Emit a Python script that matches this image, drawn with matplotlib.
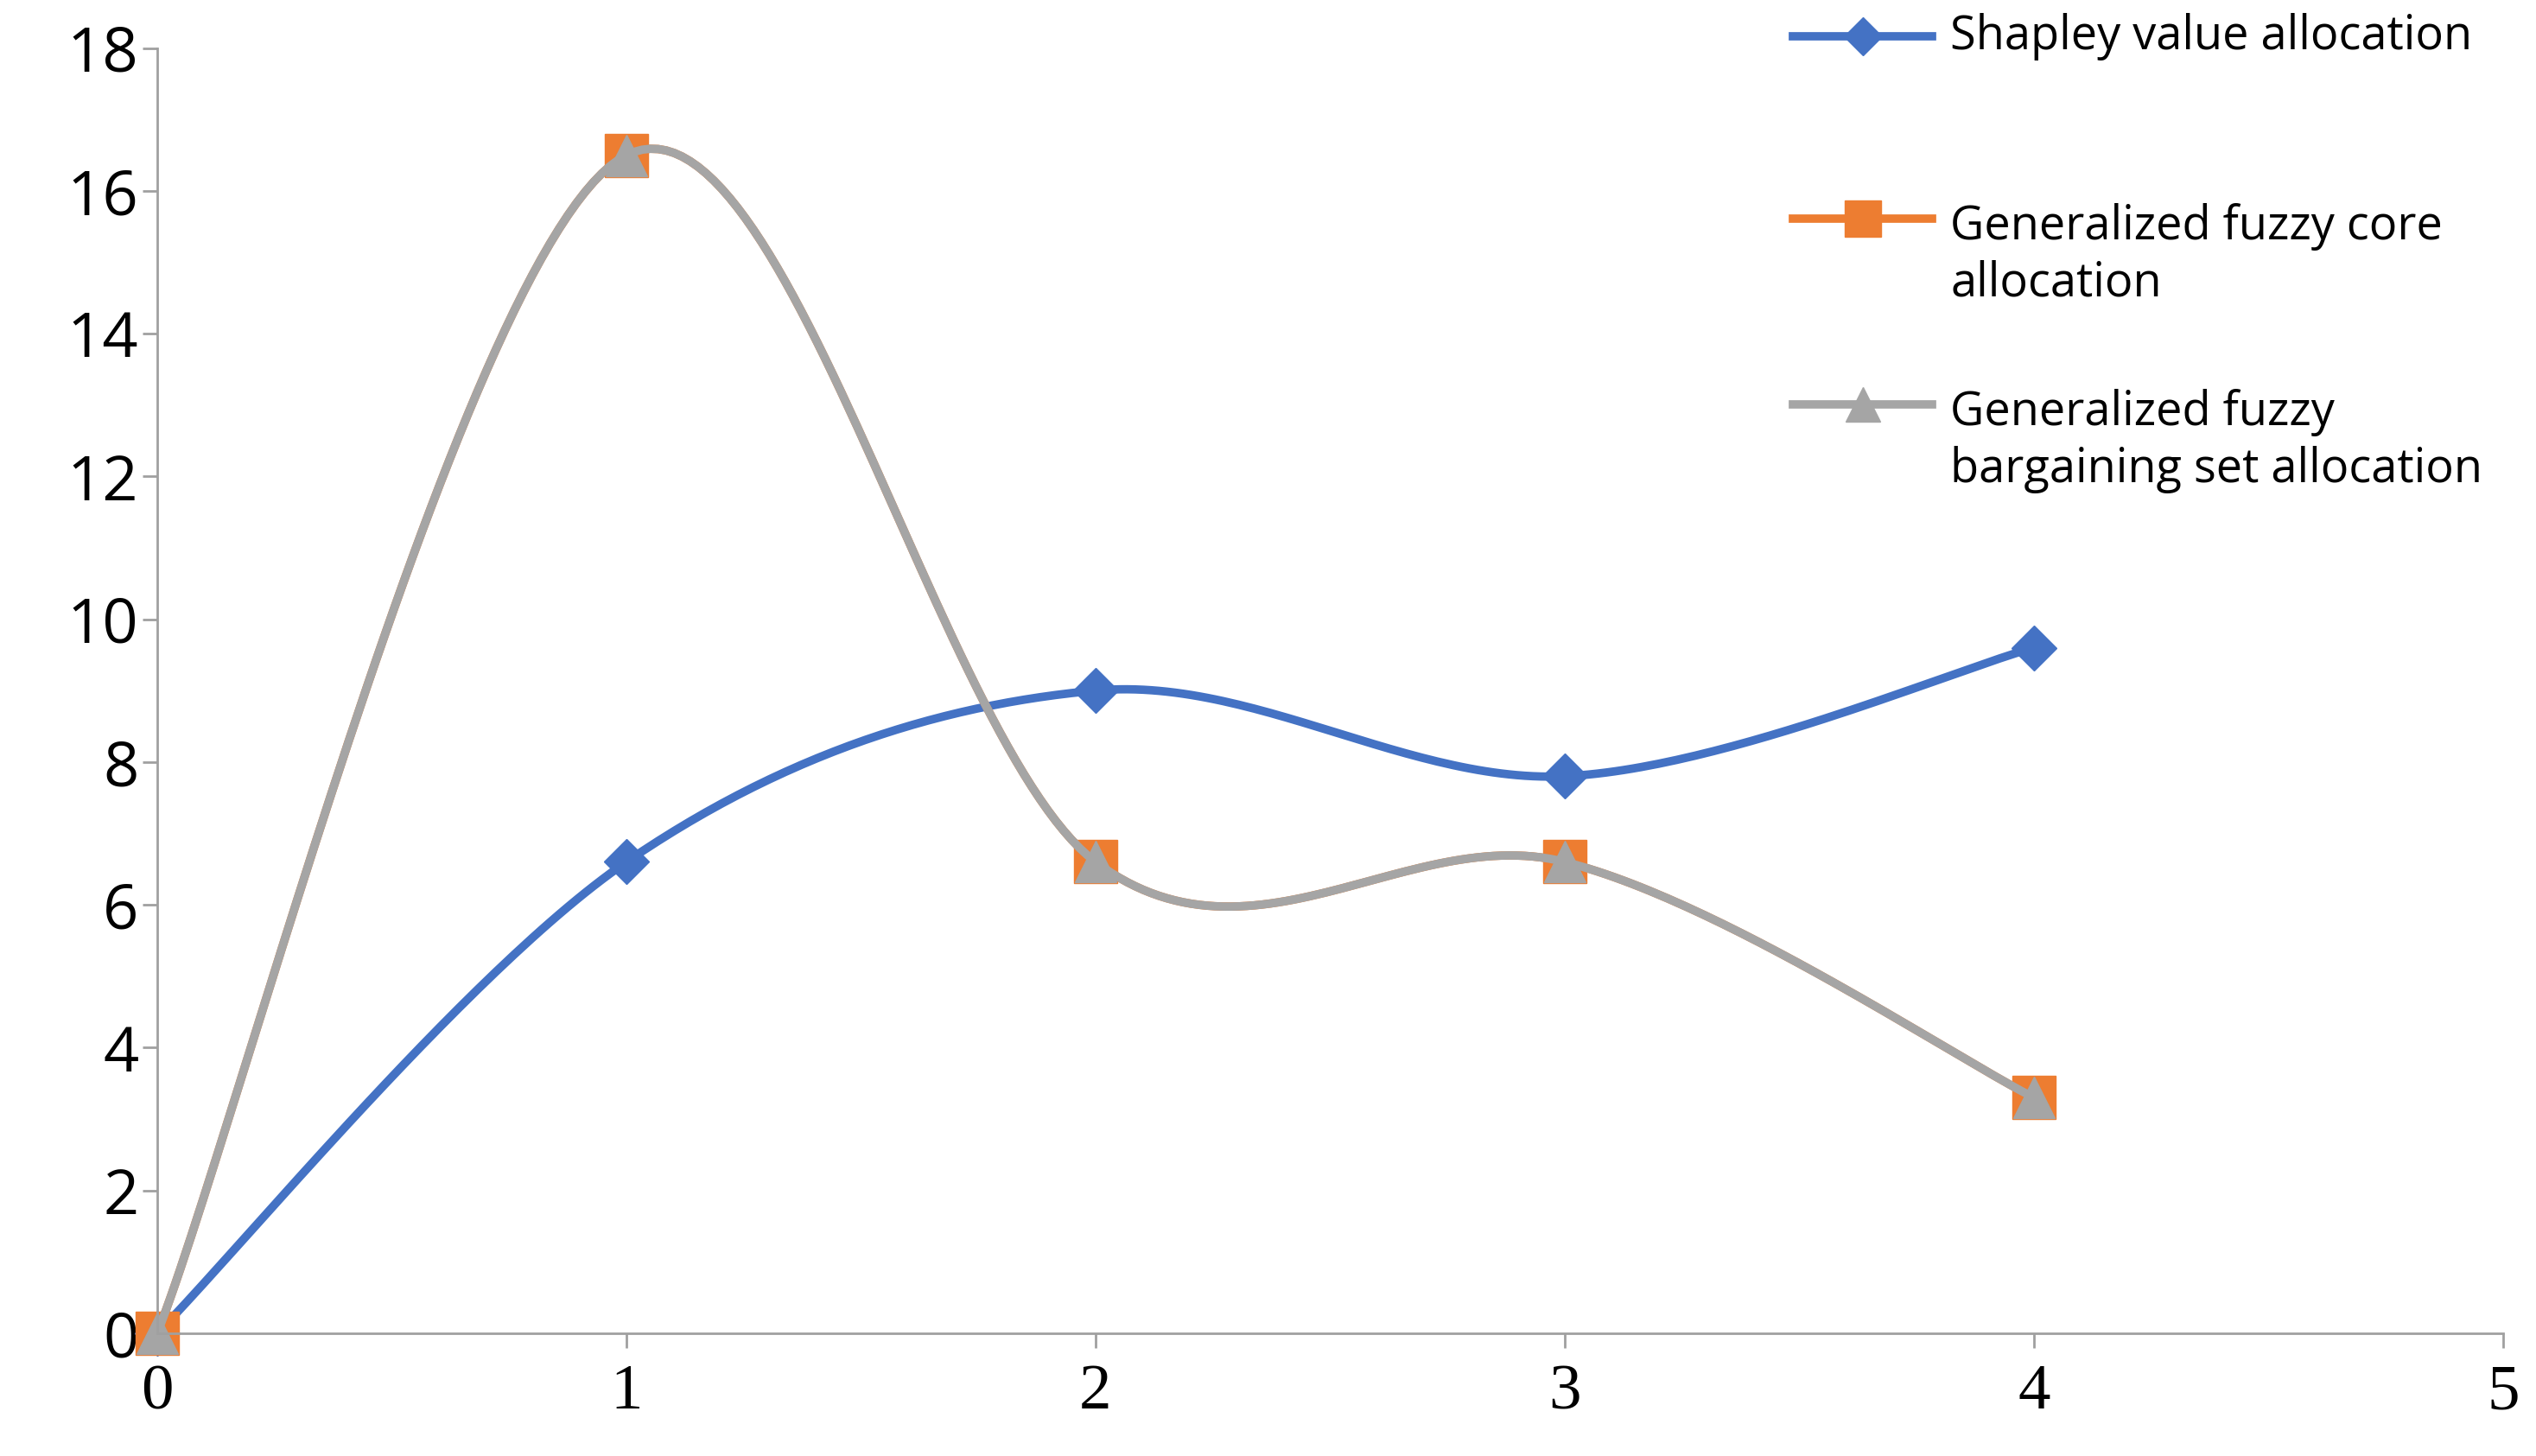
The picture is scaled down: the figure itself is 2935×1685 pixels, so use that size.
import numpy as np
import matplotlib
matplotlib.use("Agg")
import matplotlib.pyplot as plt
from matplotlib.lines import Line2D

x_vals = [0, 1, 2, 3, 4]
shapley = [0, 6.6, 9.0, 7.8, 9.6]
core = [0, 16.5, 6.6, 6.6, 3.3]
bargain = [0, 16.5, 6.6, 6.6, 3.3]
labels = ["Shapley value allocation", "Generalized fuzzy core\nallocation",
          "Generalized fuzzy\nbargaining set allocation"]
colors = ["#4472C4", "#ED7D31", "#A5A5A5"]

def smooth(xs, ys, n=60):
    xs = np.asarray(xs, float); ys = np.asarray(ys, float)
    P = np.column_stack([xs, ys])
    P = np.vstack([P[0], P, P[-1]])
    out = []
    for i in range(1, len(P) - 2):
        p0, p1, p2, p3 = P[i-1], P[i], P[i+1], P[i+2]
        t = np.linspace(0, 1, n)[:, None]
        c1 = p1 + (p2 - p0) / 6
        c2 = p2 - (p3 - p1) / 6
        seg = ((1-t)**3)*p1 + 3*((1-t)**2)*t*c1 + 3*(1-t)*t**2*c2 + t**3*p2
        out.append(seg)
    out = np.vstack(out)
    return out[:, 0], out[:, 1]

fig = plt.figure(figsize=(29.35, 16.85), dpi=100)
ax = fig.add_axes([0.062, 0.0844, 0.925, 0.8826])

specs = [(shapley, "D", 26), (core, "s", 36), (bargain, "^", 34)]
for (ys, m, ms), c in zip(specs, colors):
    sx, sy = smooth(x_vals, ys)
    ax.plot(sx, sy, color=c, lw=7, solid_capstyle="round", clip_on=False)
    ax.plot(x_vals, ys, ls="none", marker=m, ms=ms, color=c, mec=c, clip_on=False)

ax.set_xlim(0, 5)
ax.set_ylim(0, 18)
ax.set_xticks(range(6))
ax.set_yticks(range(0, 19, 2))
for s in ["top", "right"]:
    ax.spines[s].set_visible(False)
for s in ["left", "bottom"]:
    ax.spines[s].set_color("#A0A0A0")
    ax.spines[s].set_linewidth(2)
ax.tick_params(axis="both", color="#A0A0A0", width=2, length=12)
ax.tick_params(axis="x", pad=14)
for t in ax.get_yticklabels():
    t.set_fontfamily("Open Sans"); t.set_fontsize(52)
for t in ax.get_xticklabels():
    t.set_fontfamily("Liberation Serif"); t.set_fontsize(54)

legy = [0.975, 0.85, 0.722]
texty = [0.975, 0.825, 0.697]
for (ys, m, ms), c, ly, ty, lab in zip(specs, colors, legy, texty, labels):
    fig.add_artist(Line2D([0.707, 0.762], [ly, ly], color=c, lw=7,
                          transform=fig.transFigure))
    fig.add_artist(Line2D([0.7345], [ly], marker=m, ms=ms*0.85, color=c,
                          transform=fig.transFigure))
    fig.text(0.769, ty, lab, fontsize=39, family="Open Sans", va="center",
             linespacing=1.25)

fig.savefig("out.png", dpi=100)
